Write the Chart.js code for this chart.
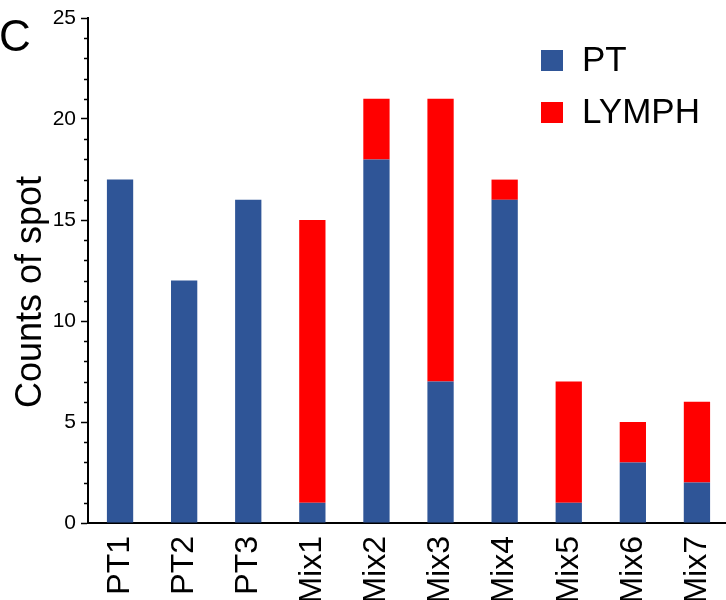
<!DOCTYPE html>
<html>
<head>
<meta charset="utf-8">
<title>Counts of spot</title>
<script src="https://cdn.jsdelivr.net/npm/chart.js@4/dist/chart.umd.min.js"></script>
<style>
  html, body { margin: 0; padding: 0; background: #fff; overflow: hidden; }
  canvas { display: block; }
</style>
</head>
<body>
<canvas id="spotChart" width="729" height="600"></canvas>
<script>
  'use strict';

  const categories = ['PT1', 'PT2', 'PT3', 'Mix1', 'Mix2', 'Mix3', 'Mix4', 'Mix5', 'Mix6', 'Mix7'];
  const ptCounts = [17, 12, 16, 1, 18, 7, 16, 1, 3, 2];
  const lymphCounts = [0, 0, 0, 14, 3, 14, 1, 6, 2, 4];
  const yTicks = [0, 5, 10, 15, 20, 25];

  const FONT = '"Liberation Sans", Arial, Helvetica, sans-serif';
  const BLUE = '#2f5597';
  const RED = '#ff0000';

  // panel letter, rotated y title, small ticks between the labelled ones, legend
  const extras = {
    id: 'extras',
    afterDraw(chart) {
      const ctx = chart.ctx;
      const y = chart.scales.y;
      const axisX = chart.chartArea.left;

      ctx.save();
      ctx.strokeStyle = '#000';
      ctx.lineWidth = 1.5;
      for (let v = y.min; v <= y.max; v++) {
        if (v % 5 === 0) continue;
        const py = Math.round(y.getPixelForValue(v)) + 0.5;
        ctx.beginPath();
        ctx.moveTo(axisX - 4, py);
        ctx.lineTo(axisX, py);
        ctx.stroke();
      }

      ctx.fillStyle = '#000';
      ctx.font = '44px ' + FONT;
      ctx.textAlign = 'left';
      ctx.textBaseline = 'alphabetic';
      ctx.fillText('C', -1, 51);

      ctx.save();
      ctx.translate(41, 292);
      ctx.rotate(-Math.PI / 2);
      ctx.font = '36px ' + FONT;
      ctx.textAlign = 'center';
      ctx.fillText('Counts of spot', 0, 0);
      ctx.restore();

      const rows = [71, 123];
      ctx.font = '35px ' + FONT;
      chart.data.datasets.forEach(function (ds, i) {
        ctx.fillStyle = ds.backgroundColor;
        ctx.fillRect(541, rows[i] - 21, 22, 21);
        ctx.fillStyle = '#000';
        ctx.fillText(ds.label, 582, rows[i]);
      });
      ctx.restore();
    }
  };

  new Chart(document.getElementById('spotChart'), {
    type: 'bar',
    data: {
      labels: categories,
      datasets: [
        { label: 'PT', data: ptCounts, backgroundColor: BLUE },
        { label: 'LYMPH', data: lymphCounts, backgroundColor: RED },
      ],
    },
    options: {
      responsive: false,
      animation: false,
      layout: { padding: { top: 18, left: 0, right: 0, bottom: 0 } },
      datasets: {
        bar: { barPercentage: 0.41, categoryPercentage: 1, borderWidth: 0 },
      },
      plugins: {
        legend: { display: false },
        tooltip: { enabled: false },
      },
      scales: {
        x: {
          stacked: true,
          grid: { display: false, drawTicks: false, tickLength: 0 },
          border: { color: '#000', width: 2 },
          ticks: {
            color: '#000',
            font: { family: FONT, size: 32 },
            minRotation: 90,
            maxRotation: 90,
            padding: 13,
            autoSkip: false,
          },
          afterFit(scale) {
            scale.height = 77;
            scale.paddingLeft = 0;
            scale.paddingRight = 0;
          },
        },
        y: {
          stacked: true,
          min: 0,
          max: 25,
          afterBuildTicks(scale) {
            scale.ticks = yTicks.map(function (v) { return { value: v }; });
          },
          grid: {
            drawOnChartArea: false,
            tickLength: 7,
            tickColor: '#000',
            tickWidth: 1.5,
          },
          border: { color: '#000', width: 2 },
          ticks: {
            color: '#000',
            font: { family: FONT, size: 21 },
            padding: 5,
          },
          afterFit(scale) {
            scale.width = 88;
          },
        },
      },
    },
    plugins: [extras],
  });
</script>
</body>
</html>
